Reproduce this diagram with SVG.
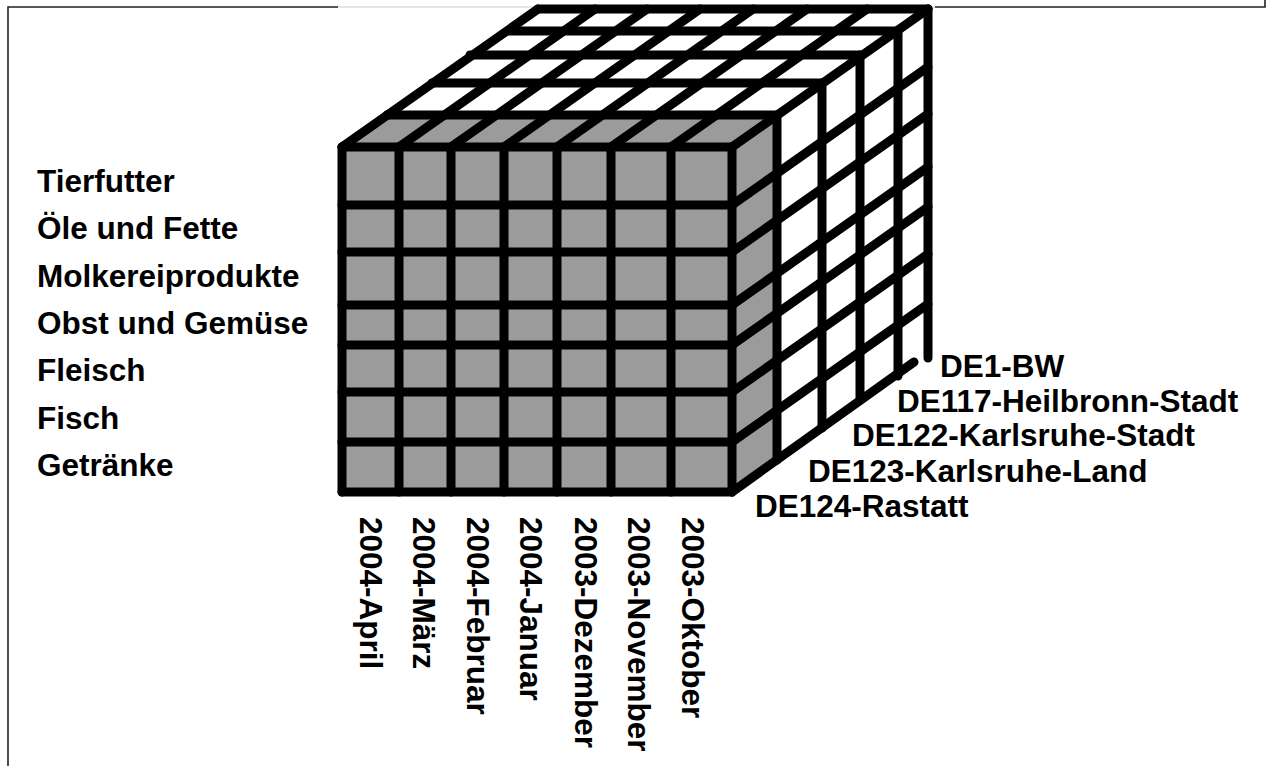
<svg xmlns="http://www.w3.org/2000/svg" width="1268" height="766" viewBox="0 0 1268 766">
<style>
.frame{fill:none;stroke:#222;stroke-width:1.6}
.faint{fill:none;stroke:#dcdcdc;stroke-width:1.5}
.g{fill:#9b9b9b;stroke:none}
.ln{fill:none;stroke:#000;stroke-width:9;stroke-linecap:round;stroke-linejoin:round}
.lbl{font-family:"Liberation Sans",Arial,Helvetica,sans-serif;font-weight:bold;font-size:31.5px;fill:#000}
</style>
<rect x="0" y="0" width="1268" height="766" fill="#fff"/>
<g id="frame">
<path class="frame" d="M8,766 V7 H338"/>
<path class="faint" d="M338,7 H935"/>
<path class="frame" d="M935,7 H1265 V0"/>
</g>
<g id="cube">
<rect class="g" x="342" y="147" width="390" height="345"/>
<polygon class="g" points="342,147 732,147 777,115 387,115"/>
<polygon class="g" points="732,147 777,115 777,460 732,492"/>
<g id="front-grid">
<path class="ln" d="M342,147 V492 M399,147 V492 M451,147 V492 M504,147 V492 M557,147 V492 M611,147 V492 M671,147 V492 M732,147 V492"/>
<path class="ln" d="M342,147 H732 M342,205 H732 M342,252 H732 M342,305 H732 M342,345 H732 M342,392 H732 M342,442 H732 M342,492 H732"/>
</g>
<g id="top-grid">
<path class="ln" d="M387,115 H777 M432,83 H822 M470,55 H860 M508,31 H898 M538,9 H928"/>
<path class="ln" d="M342,147 L538,9 M399,147 L595,9 M451,147 L647,9 M504,147 L700,9 M557,147 L753,9 M611,147 L807,9 M671,147 L867,9 M732,147 L928,9"/>
</g>
<g id="right-grid">
<path class="ln" d="M777,115 V460 M822,83 V428 M860,55 V400 M898,31 V376 M928,9 V358"/>
<path class="ln" d="M732,205 L928,67 M732,252 L928,114 M732,305 L928,167 M732,345 L928,207 M732,392 L928,254 M732,442 L928,304 M732,492 L914,362"/>
</g>
</g>
<g id="row-labels">
<text class="lbl" x="37" y="192">Tierfutter</text>
<text class="lbl" x="37" y="239">Öle und Fette</text>
<text class="lbl" x="37" y="287">Molkereiprodukte</text>
<text class="lbl" x="37" y="334">Obst und Gemüse</text>
<text class="lbl" x="37" y="381">Fleisch</text>
<text class="lbl" x="37" y="429">Fisch</text>
<text class="lbl" x="37" y="476">Getränke</text>
</g>
<g id="column-labels">
<text class="lbl" transform="translate(360,517) rotate(90)">2004-April</text>
<text class="lbl" transform="translate(413,517) rotate(90)">2004-März</text>
<text class="lbl" transform="translate(467,517) rotate(90)">2004-Februar</text>
<text class="lbl" transform="translate(520,517) rotate(90)">2004-Januar</text>
<text class="lbl" transform="translate(575,517) rotate(90)">2003-Dezember</text>
<text class="lbl" transform="translate(628,517) rotate(90)">2003-November</text>
<text class="lbl" transform="translate(682,517) rotate(90)">2003-Oktober</text>
</g>
<g id="depth-labels">
<text class="lbl" x="940" y="377">DE1-BW</text>
<text class="lbl" x="897" y="412">DE117-Heilbronn-Stadt</text>
<text class="lbl" x="852" y="446">DE122-Karlsruhe-Stadt</text>
<text class="lbl" x="808" y="482">DE123-Karlsruhe-Land</text>
<text class="lbl" x="755" y="517">DE124-Rastatt</text>
</g>
</svg>
